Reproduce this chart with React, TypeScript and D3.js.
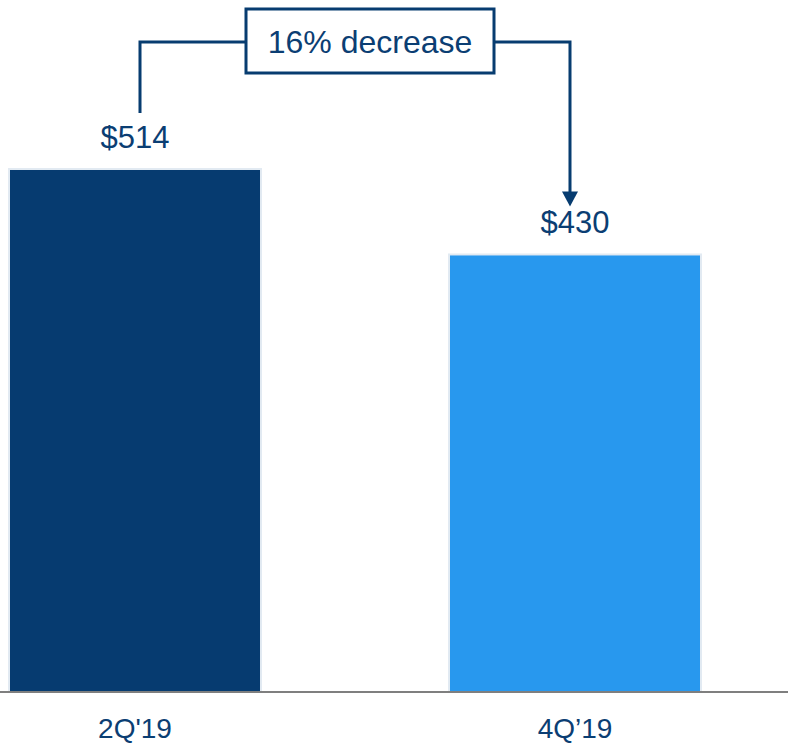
import React from "react";
import * as d3 from "d3";

const categories = ["2Q'19", "4Q\u201919"];
const values = [514, 430];
const valueLabels = ["$514", "$430"];
const annotationText = "16% decrease";

const W = 788;
const H = 744;
const baseY = 692;
const navy = "#073C70";
const textColor = "#0B3E73";
const barColors = ["#063B70", "#2898EE"];

export default function App() {
  const x = d3.scaleBand<string>().domain(categories).range([8, 702]).paddingInner(0.4227).paddingOuter(0);
  const y = d3.scaleLinear().domain([0, 514]).range([baseY, 169]);
  const bw = x.bandwidth();
  const cx = (c: string) => (x(c) as number) + bw / 2;

  const leftX = cx(categories[0]) + 5;
  const rightX = cx(categories[1]) - 5;
  const lineY = 42;
  const boxX0 = 246, boxX1 = 494, boxY0 = 9, boxY1 = 73;
  const leftBottom = y(values[0]) - 56;
  const arrowTip = y(values[1]) - 48;

  return (
    <svg width={W} height={H} style={{ position: "absolute", left: 0, top: 0 }} fontFamily="'Liberation Sans', Arial, sans-serif">
      <rect x={0} y={0} width={W} height={H} fill="#ffffff" />
      {categories.map((c, i) => (
        <rect key={c} x={(x(c) as number) + 1} y={y(values[i])} width={bw - 2} height={baseY - y(values[i])}
          fill={barColors[i]} stroke="#E2EAF2" strokeWidth={2} />
      ))}
      <line x1={0} x2={W} y1={baseY} y2={baseY} stroke="#7F7F7F" strokeWidth={2} />
      {categories.map((c, i) => (
        <text key={"v" + c} x={cx(c)} y={y(values[i]) - 21} textAnchor="middle" fontSize={31} fill={textColor}>{valueLabels[i]}</text>
      ))}
      {categories.map((c) => (
        <text key={"c" + c} x={cx(c)} y={738} textAnchor="middle" fontSize={28} fill={textColor}>{c}</text>
      ))}
      <polyline points={`${leftX},${leftBottom} ${leftX},${lineY} ${boxX0},${lineY}`} fill="none" stroke={navy} strokeWidth={3} />
      <polyline points={`${boxX1},${lineY} ${rightX},${lineY} ${rightX},${arrowTip - 14}`} fill="none" stroke={navy} strokeWidth={3} />
      <path d={`M${rightX - 8},${arrowTip - 15} L${rightX + 8},${arrowTip - 15} L${rightX},${arrowTip} Z`} fill={navy} />
      <rect x={boxX0} y={boxY0} width={boxX1 - boxX0} height={boxY1 - boxY0} fill="#ffffff" stroke={navy} strokeWidth={3} />
      <text x={(boxX0 + boxX1) / 2} y={53} textAnchor="middle" fontSize={32} fill={textColor}>{annotationText}</text>
    </svg>
  );
}
